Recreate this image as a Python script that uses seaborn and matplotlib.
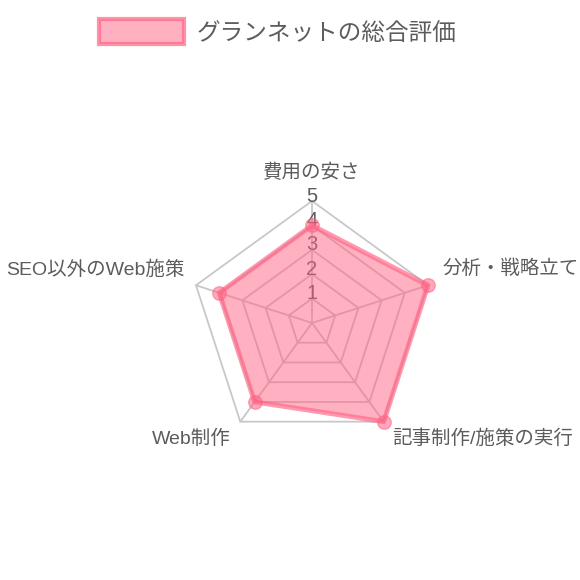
import numpy as np
import matplotlib
matplotlib.use("Agg")
import matplotlib.pyplot as plt
import seaborn as sns
from matplotlib.patches import Patch

categories = ["費用の安さ", "分析・戦略立て", "記事制作/施策の実行", "Web制作", "SEO以外のWeb施策"]
values = [4, 5, 5, 4, 4]
tick_values = [1, 2, 3, 4, 5]
series_name = "グランネットの総合評価"

sns.set_theme(style="white")
plt.rcParams['font.family'] = ['Liberation Sans', 'Noto Sans CJK JP', 'DejaVu Sans']

text_color = '#5c5c5c'
pink = (1.0, 99/255, 132/255)
grid_color = '#c8c8c8'

fig = plt.figure(figsize=(5.8, 5.8), dpi=100)
ax = fig.add_axes([0.3276, 0.2328, 0.4207, 0.4207], projection='polar')
ax.set_theta_offset(np.pi / 2)
ax.set_theta_direction(-1)
ax.grid(False)
ax.spines['polar'].set_visible(False)
ax.patch.set_alpha(0)

n = len(categories)
angles = np.linspace(0, 2 * np.pi, n, endpoint=False)
closed = np.append(angles, angles[0])

# polygon grid
for t in tick_values:
    ax.plot(closed, [t] * (n + 1), color=grid_color, lw=1.3, zorder=1, clip_on=False)
for a in angles:
    ax.plot([a, a], [0, tick_values[-1]], color=grid_color, lw=1.3, zorder=1, clip_on=False)

# tick labels on top spoke
for t in tick_values:
    ax.annotate(str(t), xy=(0, t), xytext=(0, 3.5), textcoords='offset points',
                ha='center', va='center', fontsize=14.5, color=text_color, zorder=2)

# data
vals_closed = values + values[:1]
ax.fill(closed, vals_closed, color=pink, alpha=0.5, lw=0, zorder=3, clip_on=False)
sns.lineplot(x=closed, y=vals_closed, sort=False, estimator=None, ax=ax,
             color=pink, alpha=0.65, lw=3.5, zorder=4, legend=False, clip_on=False)
sns.scatterplot(x=angles, y=values, ax=ax, s=95, color=pink, alpha=0.55,
                edgecolor=pink, linewidth=1, zorder=5, legend=False, clip_on=False)

ax.set_ylim(0, 5)
ax.set_xticks([])
ax.set_yticks([])
ax.set_xlabel('')
ax.set_ylabel('')

# axis labels
label_cfg = [
    ((0, 20), 'center', 'center'),
    ((10.6, 12.2), 'left', 'center'),
    ((5.8, -12.5), 'left', 'center'),
    ((-6.7, -12.5), 'right', 'center'),
    ((-8.5, 11.5), 'right', 'center'),
]
for cat, a, (off, ha, va) in zip(categories, angles, label_cfg):
    ax.annotate(cat, xy=(a, tick_values[-1]), xytext=off, textcoords='offset points',
                ha=ha, va=va, fontsize=14, color=text_color, annotation_clip=False)

handle = Patch(facecolor=(*pink, 0.5), edgecolor=(*pink, 0.7), linewidth=3, label=series_name)
fig.legend(handles=[handle], loc='center', bbox_to_anchor=(0.479, 0.945), frameon=False,
           fontsize=17, handlelength=3.6, handleheight=1.25, handletextpad=0.5,
           labelcolor=text_color)

fig.savefig('out.png', dpi=100)
